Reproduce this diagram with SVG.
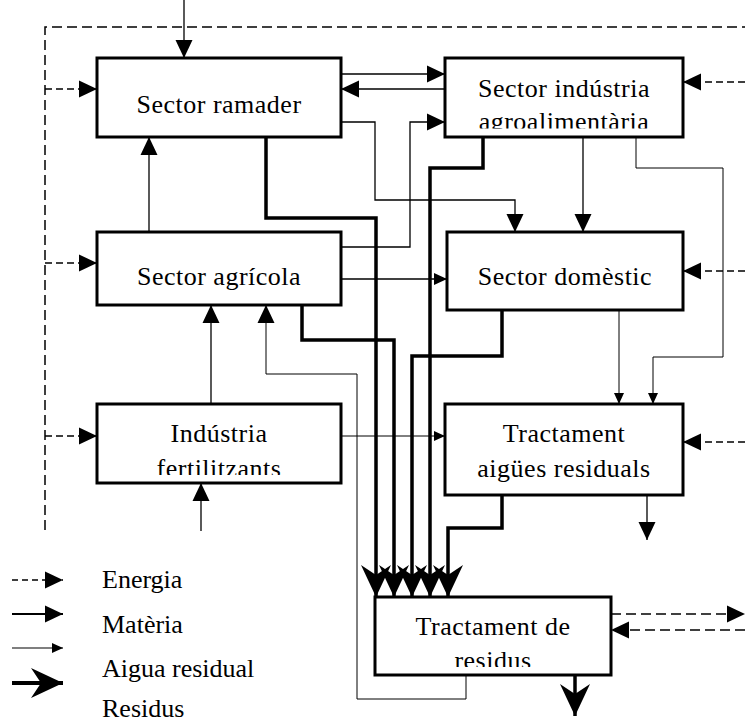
<svg xmlns="http://www.w3.org/2000/svg" width="745" height="724" viewBox="0 0 745 724">
<style>
.box{fill:#fff;stroke:#000;stroke-width:3}
.t{font-family:"Liberation Serif","Times New Roman",serif;font-size:26px;letter-spacing:0.5px;text-anchor:middle;fill:#000}
.lt{font-family:"Liberation Serif","Times New Roman",serif;font-size:26px;fill:#000}
.thin{fill:none;stroke:#000;stroke-width:1.3}
.hair{fill:none;stroke:#000;stroke-width:1}
.thick{fill:none;stroke:#000;stroke-width:3.5}
.dash{fill:none;stroke:#000;stroke-width:1.5;stroke-dasharray:10 5}
.dash2{fill:none;stroke:#000;stroke-width:1.5;stroke-dasharray:7 4}
</style>
<defs>
<marker id="ah" markerUnits="userSpaceOnUse" viewBox="0 0 18 18" markerWidth="18" markerHeight="18" refX="18" refY="9" orient="auto"><path d="M0,0.5 L18,9 L0,17.5 Z" fill="#000"/></marker>
<marker id="am" markerUnits="userSpaceOnUse" viewBox="0 0 13 13" markerWidth="13" markerHeight="13" refX="13" refY="6.5" orient="auto"><path d="M0,0.5 L13,6.5 L0,12.5 Z" fill="#000"/></marker>
<marker id="as" markerUnits="userSpaceOnUse" viewBox="0 0 11 11" markerWidth="11" markerHeight="11" refX="11" refY="5.5" orient="auto"><path d="M0,0.5 L11,5.5 L0,10.5 Z" fill="#000"/></marker>
<marker id="at" markerUnits="userSpaceOnUse" viewBox="0 0 32 32" markerWidth="32" markerHeight="32" refX="32" refY="16" orient="auto"><path d="M0,1 L32,16 L0,31 L10,16 Z" fill="#000"/></marker>
<clipPath id="clipInd"><rect x="445" y="58" width="238" height="70.5"/></clipPath>
<clipPath id="clipFert"><rect x="97" y="404" width="244" height="71"/></clipPath>
<clipPath id="clipRes"><rect x="375" y="597" width="236" height="70"/></clipPath>
</defs>
<g id="connectors">
<path class="dash" d="M45,530 V27 H745"/>
<path class="dash2" d="M45,89 H97" marker-end="url(#ah)"/>
<path class="dash2" d="M45,263 H97" marker-end="url(#ah)"/>
<path class="dash2" d="M45,436 H97" marker-end="url(#ah)"/>
<path class="dash2" d="M745,82 H683" marker-end="url(#ah)"/>
<path class="dash2" d="M745,271 H683" marker-end="url(#ah)"/>
<path class="dash2" d="M745,442 H683" marker-end="url(#ah)"/>
<path class="dash" d="M611,614 H745" marker-end="url(#ah)"/>
<path class="dash" d="M745,630 H611" marker-end="url(#ah)"/>
<path class="thin" d="M184,0 V58" marker-end="url(#ah)"/>
<path class="thin" d="M341,74 H445" marker-end="url(#ah)"/>
<path class="thin" d="M445,89 H341" marker-end="url(#ah)"/>
<path class="thin" d="M341,122 H375 V200 H515 V232" marker-end="url(#ah)"/>
<path class="thin" d="M341,247 H410 V122 H445" marker-end="url(#ah)"/>
<path class="thin" d="M341,279 H447" marker-end="url(#am)"/>
<path class="thin" d="M583,137 V232" marker-end="url(#ah)"/>
<path class="hair" d="M636,137 V168 H723 V357 H653 V404" marker-end="url(#as)"/>
<path class="hair" d="M619,310 V404" marker-end="url(#as)"/>
<path class="thin" d="M149,232 V137" marker-end="url(#ah)"/>
<path class="thin" d="M211,404 V305" marker-end="url(#ah)"/>
<path class="hair" d="M466,675 V699 H357 V374 H266 V305" marker-end="url(#ah)"/>
<path class="thin" d="M201,531 V483" marker-end="url(#ah)"/>
<path class="hair" d="M341,436 H445" marker-end="url(#as)"/>
<path class="thin" d="M647,495 V540" marker-end="url(#ah)"/>
<path class="thick" d="M266,137 V218 H376 V597" marker-end="url(#at)"/>
<path class="thick" d="M302,305 V340 H394 V597" marker-end="url(#at)"/>
<path class="thick" d="M502,310 V356 H412 V597" marker-end="url(#at)"/>
<path class="thick" d="M483,137 V168 H430 V597" marker-end="url(#at)"/>
<path class="thick" d="M502,495 V528 H448 V597" marker-end="url(#at)"/>
<path class="thick" d="M575,675 V716" marker-end="url(#at)"/>
</g>
<g id="ramader"><rect class="box" x="97" y="58" width="244" height="79"/><text class="t" x="219" y="113">Sector ramader</text></g>
<g id="industria"><rect class="box" x="445" y="58" width="238" height="79"/><g clip-path="url(#clipInd)"><text class="t" x="564" y="97">Sector indústria</text><text class="t" x="564" y="130">agroalimentària</text></g></g>
<g id="agricola"><rect class="box" x="97" y="232" width="244" height="73"/><text class="t" x="219" y="285">Sector agrícola</text></g>
<g id="domestic"><rect class="box" x="447" y="232" width="236" height="78"/><text class="t" x="565" y="285">Sector domèstic</text></g>
<g id="fertilitzants"><rect class="box" x="97" y="404" width="244" height="79"/><g clip-path="url(#clipFert)"><text class="t" x="219" y="442">Indústria</text><text class="t" x="219" y="477">fertilitzants</text></g></g>
<g id="aigues"><rect class="box" x="445" y="404" width="238" height="91"/><text class="t" x="564" y="442">Tractament</text><text class="t" x="564" y="477">aigües residuals</text></g>
<g id="residus"><rect class="box" x="375" y="597" width="236" height="78"/><g clip-path="url(#clipRes)"><text class="t" x="493" y="635">Tractament de</text><text class="t" x="493" y="669">residus</text></g></g>
<g id="legend">
<path d="M12,580 H63" fill="none" stroke="#000" stroke-width="1.5" stroke-dasharray="6 4" marker-end="url(#ah)"/>
<path d="M12,614 H63" fill="none" stroke="#000" stroke-width="2" marker-end="url(#ah)"/>
<path d="M12,648 H63" fill="none" stroke="#000" stroke-width="1.2" marker-end="url(#as)"/>
<path d="M12,683 H63" fill="none" stroke="#000" stroke-width="4" marker-end="url(#at)"/>
<text class="lt" x="102" y="588">Energia</text>
<text class="lt" x="102" y="633">Matèria</text>
<text class="lt" x="102" y="677">Aigua residual</text>
<text class="lt" x="102" y="717">Residus</text>
</g>
</svg>
